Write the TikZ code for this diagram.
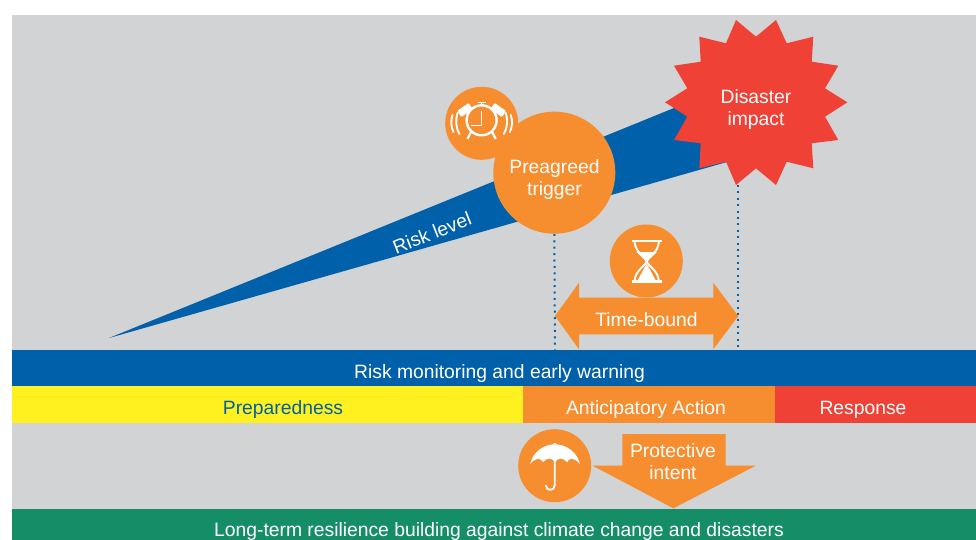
\documentclass[tikz,border=0pt]{standalone}
\usepackage{fontspec}
\setmainfont{Liberation Sans}
\definecolor{bggray}{HTML}{D1D3D4}
\definecolor{rblue}{HTML}{0060A9}
\definecolor{rorange}{HTML}{F68D2E}
\definecolor{rred}{HTML}{EF4136}
\definecolor{ryellow}{HTML}{FFF01F}
\definecolor{rgreen}{HTML}{158E68}
\tikzset{
  lbl/.style={text=white,font=\fontsize{19.3}{22}\selectfont,align=center,inner sep=0pt},
  badge/.style={circle,fill=rorange,inner sep=0pt,minimum size=73pt},
  icon/.style={draw=white,line width=2.4pt,fill=none},
  dots/.style={rblue,line width=2pt,dash pattern=on 2pt off 4.4pt}
}
\begin{document}
\begin{tikzpicture}[x=1pt,y=-1pt]
\useasboundingbox (0,0) rectangle (976,540);
\fill[white] (0,0) rectangle (976,540);
\fill[bggray] (12,15) rectangle (976,540);
% bands
\fill[rblue] (12,349.5) rectangle (976,386.3);
\fill[ryellow] (12,386.3) rectangle (522.5,423);
\fill[rorange] (522.5,386.3) rectangle (775,423);
\fill[rred] (775,386.3) rectangle (976,423);
\fill[rgreen] (12,508.5) rectangle (976,540);
\coordinate (bandleft) at (555,349.5);
\coordinate (bandright) at (738.3,349.5);
\coordinate (disbottom) at (738.3,185);
% wedge
\fill[rblue] (109,338) -- (674,108) -- (745,90) -- (745,157.5) -- (727,162) -- cycle;
% star
\fill[rred] (736,20)--(756,36.7)--(776,20)--(786.7,43.3)--(813.3,36.7)--(811.7,61.7)--(838.3,65.7)--(825,88.3)--(847.3,102.3)--(825,116.7)--(838.3,140)--(811.7,143.3)--(813.3,168.3)--(786.7,161.7)--(776,185)--(756,168.3)--(736,185)--(726,161.7)--(699.3,168.3)--(700.7,143.3)--(674,140)--(687.3,116.7)--(665,102.3)--(687.3,88.3)--(674,65.7)--(700.7,61.7)--(699.3,36.7)--(726,43.3)--cycle;
\node[lbl] (disaster) at (756,109.5) {Disaster\\impact};
% badges
\node[badge] (alarm) at (481.7,123.3) {};
\node[circle,fill=rorange,inner sep=0pt,minimum size=122pt] (trigger) at (554.3,172.7) {};
\node[lbl] (triggertext) at (554.5,180) {Preagreed\\trigger};
% alarm icon
\draw[icon] (481.6,120.3) circle (15);
\draw[white,line width=1.5pt] (481.7,111) -- (481.7,125.7) -- (470.7,125.7);
\fill[white,rotate around={35:(465,110)},rounded corners=1pt] (458,106.3) rectangle (472,113.7);
\fill[white,rotate around={-35:(498.3,110)},rounded corners=1pt] (491.3,106.3) rectangle (505.3,113.7);
\draw[white,line width=1.5pt] (481.7,105) -- (481.7,102.5) (477.5,102.5) -- (485.9,102.5);
\draw[white,line width=2.2pt] (471,132) -- (467.5,139) (492.2,132) -- (495.7,139);
\draw[white,line width=1.9pt,line cap=round] (457.5,113) .. controls (455.5,120) and (455.5,127) .. (459.5,134);
\draw[white,line width=1.9pt,line cap=round] (452.5,115) .. controls (450.5,121) and (451,127) .. (453.5,132);
\draw[white,line width=1.9pt,line cap=round] (505.8,113) .. controls (507.8,120) and (507.8,127) .. (503.8,134);
\draw[white,line width=1.9pt,line cap=round] (510.8,115) .. controls (512.8,121) and (512.3,127) .. (509.8,132);
% dotted connectors
\draw[dots] (trigger.south) -- (bandleft);
\draw[dots] (disbottom) -- (bandright);
% time bound
\fill[rorange] (555,316) -- (579,282.7) -- (579,297.7) -- (713.3,297.7) -- (713.3,282.7) -- (738.3,316) -- (713.3,349.3) -- (713.3,334.3) -- (579,334.3) -- (579,349.3) -- cycle;
\node[badge] (hourglass) at (646.3,261) {};
\draw[white,line width=2.2pt] (631.7,241.3) -- (661.7,241.3) (631.7,281.5) -- (661.7,281.5);
\draw[white,line width=1.9pt] (634.5,241.3) .. controls (635,252) and (644,256) .. (646.7,261.5) .. controls (644,267) and (635,271) .. (634.5,281.5);
\draw[white,line width=1.9pt] (658.9,241.3) .. controls (658.4,252) and (649.4,256) .. (646.7,261.5) .. controls (649.4,267) and (658.4,271) .. (658.9,281.5);
\fill[white] (636.5,252) -- (657,252) -- (646.7,261.5) -- cycle;
\fill[white] (646.7,263.5) -- (656,281) -- (637.4,281) -- cycle;
\node[lbl] (timebound) at (646.5,320) {Time-bound};
% umbrella
\node[badge] (umbrellabadge) at (554.7,465.7) {};
\fill[white] (530,464.3) .. controls (533,452) and (543,445) .. (553.5,444.3) -- (553.5,443) -- (556,443) -- (556,444.3) .. controls (567,445) and (577,452) .. (580,464.3) .. controls (575,458) and (570,457) .. (567,462) .. controls (563,457.5) and (558,457.5) .. (555,462) .. controls (552,457.5) and (547,457.5) .. (543,462) .. controls (540,457) and (535,458) .. (530,464.3) -- cycle;
\draw[white,line width=1.8pt,line cap=round] (554.7,460) -- (554.7,485.5) arc[start angle=0,end angle=180,radius=4.4];
% labels
\node[lbl,rotate=21.5] (risklevel) at (432,233) {Risk level};
\node[lbl] (monitoring) at (499.5,373.5) {Risk monitoring and early warning};
\node[lbl,text=rblue] (preparedness) at (283,410) {Preparedness};
\node[lbl] (anticipatory) at (646,410) {Anticipatory Action};
\node[lbl] (response) at (863,410) {Response};
% protective
\fill[rorange] (622.3,434) -- (725.7,434) -- (725.7,465.7) -- (755.7,465.7) -- (673.3,508.3) -- (592.7,465.7) -- (622.3,465.7) -- cycle;
\node[lbl] (protective) at (673,462) {Protective\\intent};
\node[lbl] (longterm) at (499,532) {Long-term resilience building against climate change and disasters};
\end{tikzpicture}
\end{document}
